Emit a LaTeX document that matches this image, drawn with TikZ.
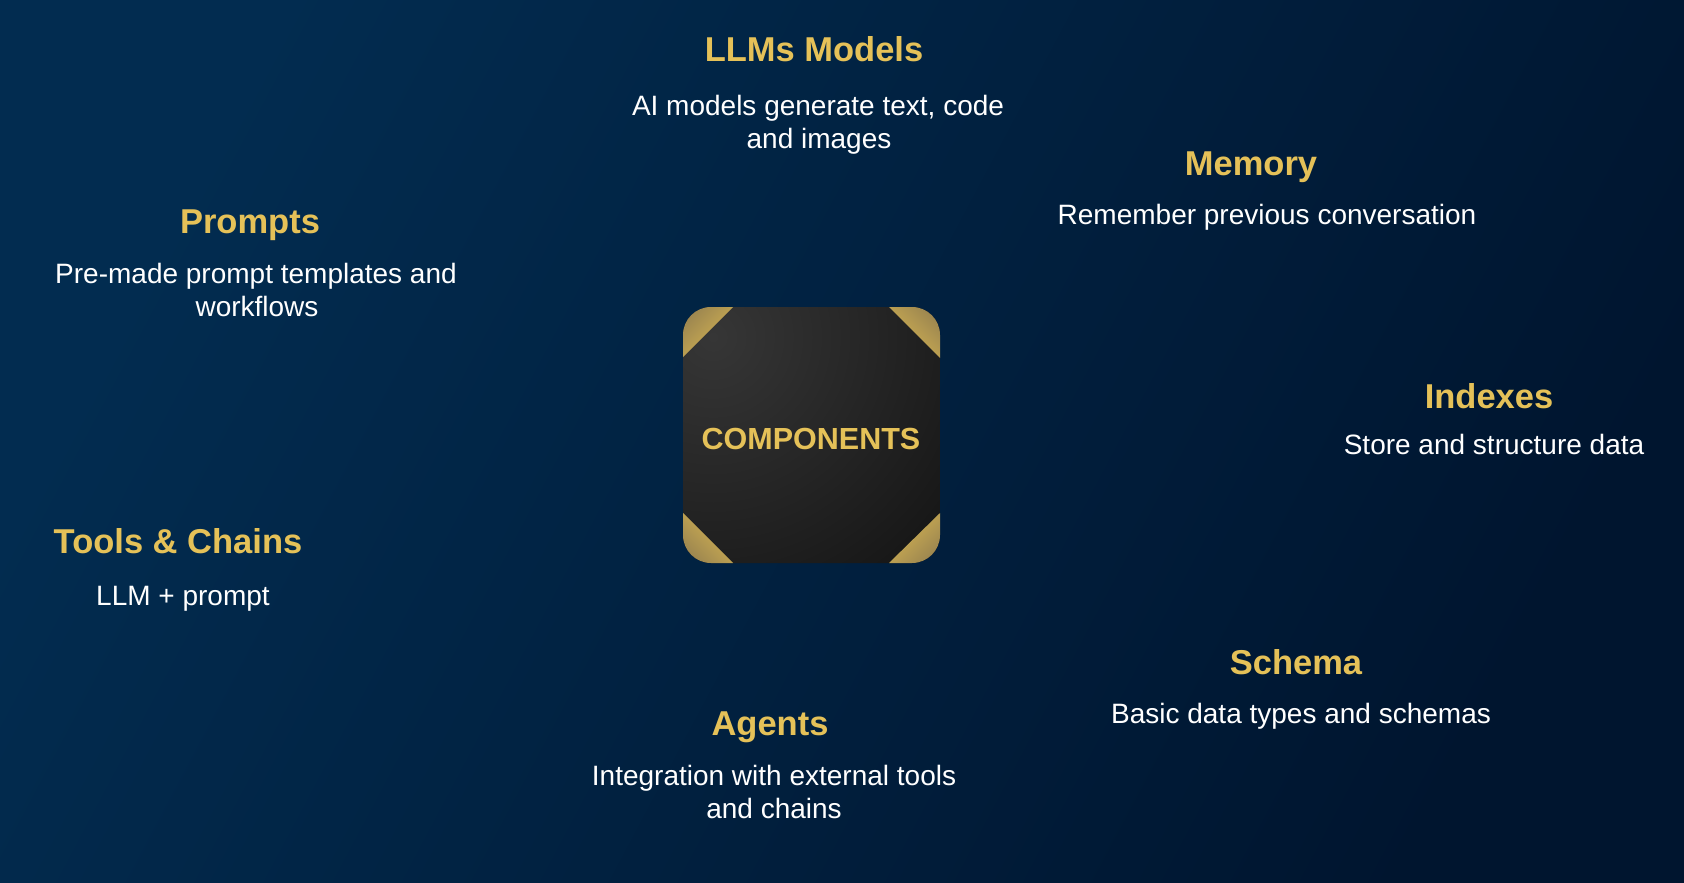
\documentclass[tikz,border=0pt]{standalone}
\usepackage{fontspec}
\setmainfont{Liberation Sans}
\definecolor{bgTop}{HTML}{022C50}
\definecolor{bgMid}{HTML}{001E45}
\definecolor{bgBot}{HTML}{00152F}
\definecolor{boxLight}{HTML}{363636}
\definecolor{boxDark}{HTML}{131313}
\definecolor{goldHi}{HTML}{D9B752}
\definecolor{goldLo}{HTML}{9C8650}
\definecolor{titleGold}{HTML}{E5C158}
\begin{document}
\begin{tikzpicture}[x=1pt,y=-1pt,
  title/.style={anchor=base,inner sep=0pt,text=titleGold,
    font=\fontsize{34.5}{40}\selectfont\bfseries},
  body/.style={anchor=base,inner sep=0pt,text=white,
    font=\fontsize{28}{33}\selectfont},
  goldTL/.style={sharp corners,top color=goldLo,bottom color=goldHi,shading angle=45},
  goldTR/.style={sharp corners,top color=goldLo,bottom color=goldHi,shading angle=-45},
  goldBL/.style={sharp corners,top color=goldHi,bottom color=goldLo,shading angle=-45},
  goldBR/.style={sharp corners,top color=goldHi,bottom color=goldLo,shading angle=45},
  hub/.style={minimum width=257pt,minimum height=256pt,inner sep=0pt,
    rounded corners=28pt,
    path picture={
      \shade[sharp corners,inner color=boxLight,outer color=boxDark]
        ([shift={(30,30)}]path picture bounding box.north west) circle (330);
      \shade[goldTL] (path picture bounding box.north west)
        -- ++(50,0) -- ++(-50,50) -- cycle;
      \shade[goldTR] (path picture bounding box.north east)
        -- ++(-51,0) -- ++(51,51) -- cycle;
      \shade[goldBL] (path picture bounding box.south west)
        -- ++(0,-50) -- ++(50,50) -- cycle;
      \shade[goldBR] (path picture bounding box.south east)
        -- ++(0,-50) -- ++(-51,50) -- cycle;
    }},
  hubtext/.style={anchor=base,inner sep=0pt,text=titleGold,
    font=\fontsize{30.5}{34}\selectfont\bfseries}
]
% canvas and background gradient
\path[use as bounding box] (0,0) rectangle (1684,883);
\shade[top color=bgTop,middle color=bgMid,bottom color=bgBot,shading angle=62]
  (0,0) rectangle (1684,883);

% central tile
\node[hub] (hub) at (811.5,435) {};
\node[hubtext] (hubtext) at (811,449) {COMPONENTS};

% LLMs Models
\node[title] (llmT) at (814,62) {LLMs Models};
\node[body] (llmA) at (818,115) {AI models generate text, code};
\node[body] (llmB) at (819,148) {and images};

% Memory
\node[title] (memT) at (1251,175) {Memory};
\node[body] (memA) at (1267,224) {Remember previous conversation};

% Prompts
\node[title] (prmT) at (250,233) {Prompts};
\node[body] (prmA) at (256,283) {Pre-made prompt templates and};
\node[body] (prmB) at (257,316) {workflows};

% Indexes
\node[title] (idxT) at (1489,408) {Indexes};
\node[body] (idxA) at (1494,454) {Store and structure data};

% Tools & Chains
\node[title] (tlcT) at (178,553) {Tools \& Chains};
\node[body] (tlcA) at (183,605) {LLM + prompt};

% Schema
\node[title] (schT) at (1296,674) {Schema};
\node[body] (schA) at (1301,723) {Basic data types and schemas};

% Agents
\node[title] (agtT) at (770,735) {Agents};
\node[body] (agtA) at (774,785) {Integration with external tools};
\node[body] (agtB) at (774,818) {and chains};
\end{tikzpicture}
\end{document}
